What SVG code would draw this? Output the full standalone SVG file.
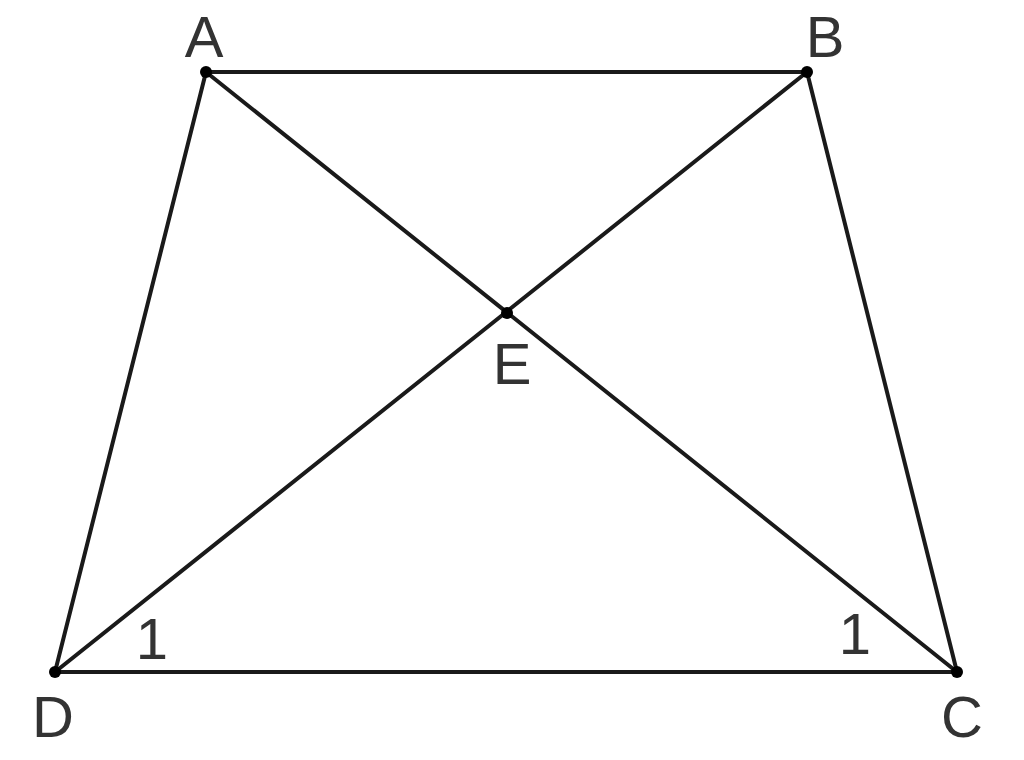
<svg xmlns="http://www.w3.org/2000/svg" width="1024" height="760" viewBox="0 0 1024 760">
<style>
.l{stroke:#1a1a1a;stroke-width:4;fill:none;stroke-linecap:round}
.p{fill:#000}
.t{font-family:"Liberation Sans",Arial,sans-serif;font-size:58px;fill:#333;text-anchor:middle}
</style>
<rect width="1024" height="760" fill="#fff"/>
<g id="connectors">
<line class="l" x1="206" y1="72" x2="807" y2="72"/>
<line class="l" x1="807" y1="72" x2="957" y2="672"/>
<line class="l" x1="957" y1="672" x2="55" y2="672"/>
<line class="l" x1="55" y1="672" x2="206" y2="72"/>
<line class="l" x1="206" y1="72" x2="957" y2="672"/>
<line class="l" x1="807" y1="72" x2="55" y2="672"/>
</g>
<g id="A"><circle class="p" cx="206" cy="72" r="6"/><text class="t" x="204" y="57">A</text></g>
<g id="B"><circle class="p" cx="807" cy="72" r="6"/><text class="t" x="825" y="57">B</text></g>
<g id="C"><circle class="p" cx="957" cy="672" r="6"/><text class="t" x="962" y="737">C</text></g>
<g id="D"><circle class="p" cx="55" cy="672" r="6"/><text class="t" x="53" y="737">D</text></g>
<g id="E"><circle class="p" cx="507" cy="313" r="6"/><text class="t" x="512" y="384">E</text></g>
<g id="angle1D"><text class="t" x="152" y="659">1</text></g>
<g id="angle1C"><text class="t" x="855" y="654">1</text></g>
</svg>
